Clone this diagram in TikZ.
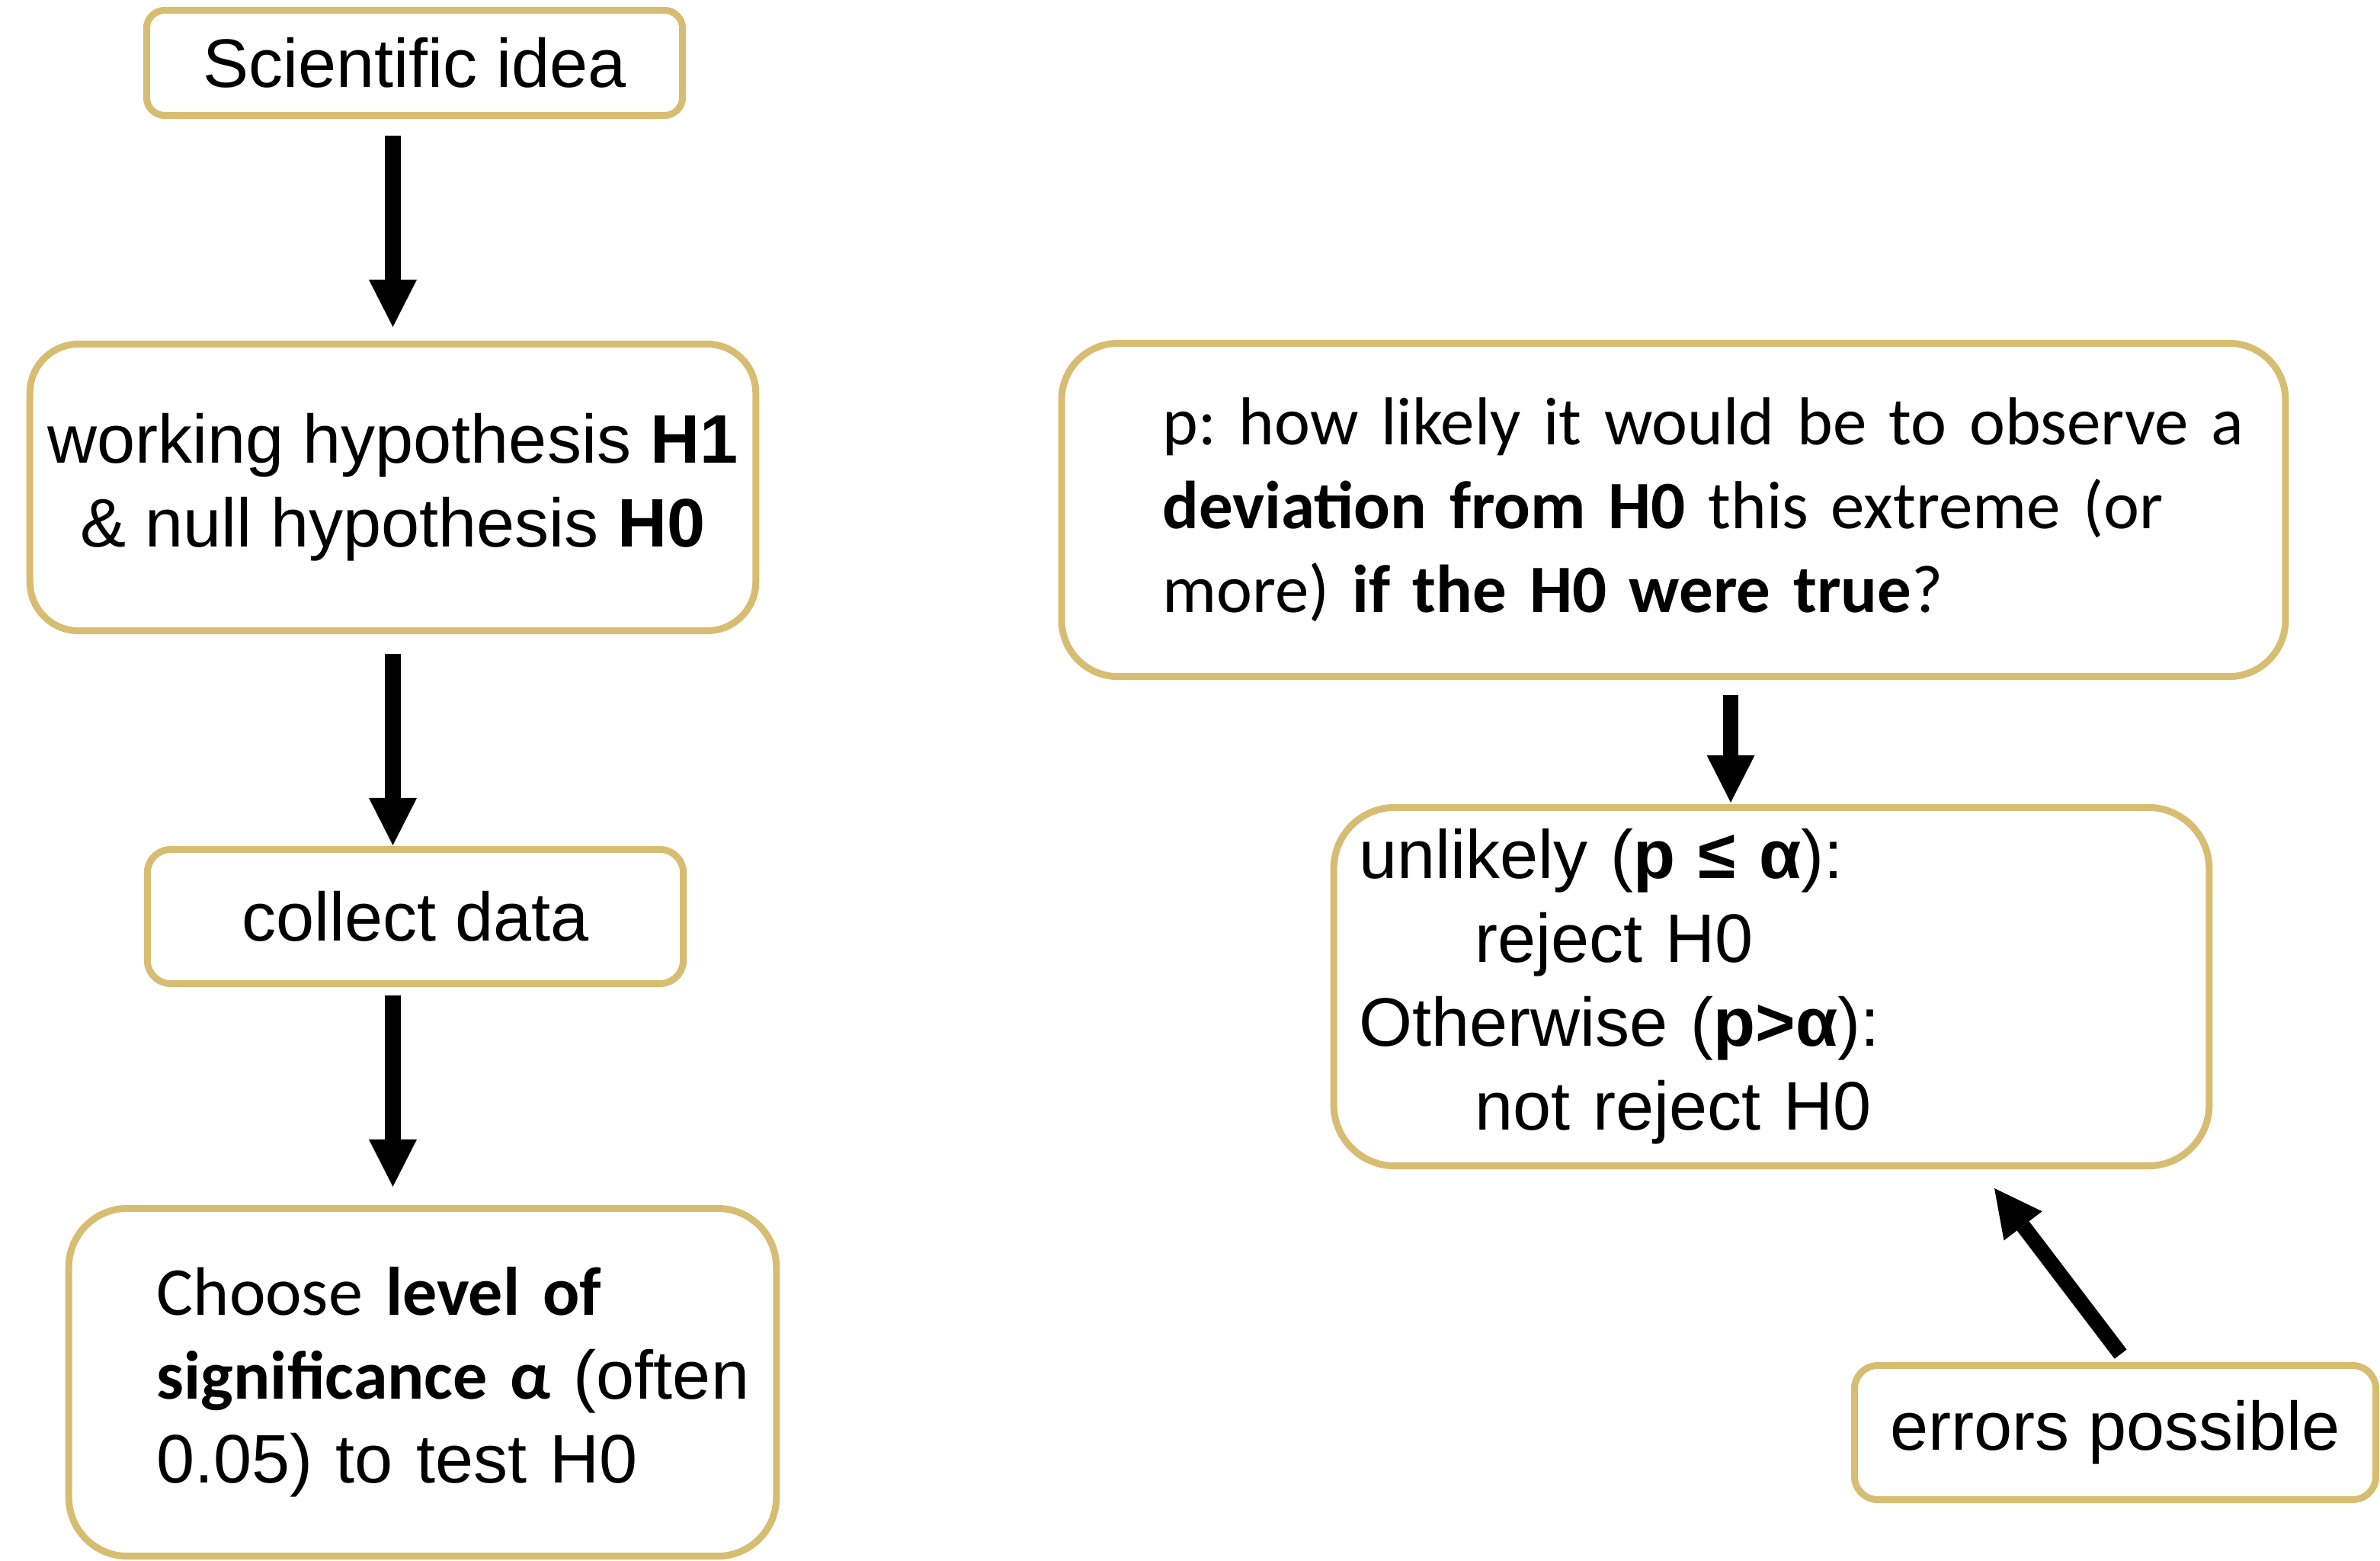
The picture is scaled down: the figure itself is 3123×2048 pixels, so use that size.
\documentclass[tikz,border=0pt]{standalone}
\usepackage{fontspec}
\setmainfont{Liberation Sans}
\newfontfamily\calibri{Carlito}
\usetikzlibrary{arrows.meta}
\definecolor{boxgold}{RGB}{215,189,113}
\frenchspacing

\begin{document}
\begin{tikzpicture}[x=0.01cm, y=0.01cm]
    \tikzstyle{every node}+=[font=\fontsize{25.6pt}{31.3pt}\selectfont]
    \tikzstyle{box}=[draw=boxgold, line width=0.09cm, fill=white, inner sep=0pt]
    \tikzstyle{calibritext}=[font=\calibri\fontsize{25.3pt}{31.3pt}\selectfont]
    \tikzstyle{bigarrow}=[black, line width=0.2cm, -{Triangle[length=0.62cm, width=0.63cm, line width=0pt]}]
    \useasboundingbox (0,0) rectangle (3123,-2048);
    \node [box, rounded corners=0.24cm, minimum width=7.03cm, minimum height=1.38cm] (idea) at (544,-82.5) {Scientific idea};
    \node [box, rounded corners=0.64cm, minimum width=9.52cm, minimum height=3.76cm, align=center] (hyp) at (515.5,-639.5) {working hypothesis \textbf{H1}\\\& null hypothesis \textbf{H0}};
    \node [box, rounded corners=0.31cm, minimum width=7.03cm, minimum height=1.76cm] (collect) at (545,-1202.5) {collect data};
    \node [box, rounded corners=0.77cm, minimum width=9.28cm, minimum height=4.56cm, text width=6.97cm, align=left] (choose) at (554.5,-1813.5) {{\calibri Choose \textbf{level of}}\\\mbox{{\calibri\bfseries significance α} (often}\\0.05) to test H0};
    \node [box, calibritext, rounded corners=0.74cm, minimum width=16.05cm, minimum height=4.37cm, text width=13.40cm, align=left] (pval) at (2196,-669) {\mbox{p: how likely it would be to observe a}\\\textbf{deviation from H0} this extreme (or\\more) \textbf{if the H0 were true}?};
    \node [box, rounded corners=0.80cm, minimum width=11.48cm, minimum height=4.70cm, text width=10.81cm, align=left] (decide) at (2324.5,-1294.5) {unlikely (\textbf{p ≤ α}):\\\hspace*{1.52cm}reject H0\\Otherwise (\textbf{p>α}):\\\hspace*{1.52cm}not reject H0};
    \node [box, rounded corners=0.31cm, minimum width=6.84cm, minimum height=1.76cm] (err) at (2775.5,-1879.5) {errors possible};
    \coordinate (errtip) at (2617,-1559);
    \draw [bigarrow, shorten <=0.22cm, shorten >=0.18cm] (idea.south -| hyp.north) -- (hyp.north);
    \draw [bigarrow, shorten <=0.26cm, shorten >=0.01cm] (hyp.south) -- (collect.north -| hyp.south);
    \draw [bigarrow, shorten <=0.11cm, shorten >=0.24cm] (collect.south -| hyp.south) -- (choose.north -| hyp.south);
    \draw [bigarrow, shorten <=0.20cm, shorten >=0.02cm] ([xshift=0.75cm]pval.south) -- ([xshift=0.75cm]pval.south |- decide.north);
    \draw [bigarrow, shorten <=0.13cm] ([xshift=0.15cm]err.north) -- (errtip);
\end{tikzpicture}
\end{document}
